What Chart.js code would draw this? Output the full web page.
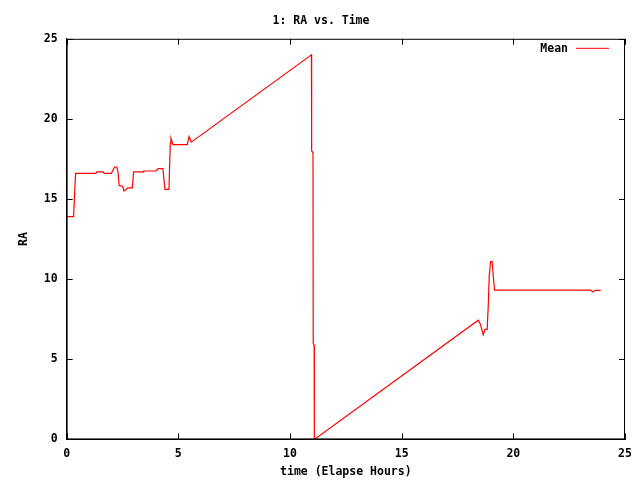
<!DOCTYPE html>
<html lang="en">
    <head>
        <meta charset="UTF-8" />
        <title>1: RA vs. Time</title>
        <script src="https://cdn.jsdelivr.net/npm/chart.js"></script>
        <style>
            html, body { margin: 0; padding: 0; background: #fff; }
            #wrap { width: 640px; height: 480px; }
        </style>
    </head>
    <body>
        <div id="wrap"><canvas id="raChart" width="640" height="480"></canvas></div>

        <script>
            // elapsed hours and mean RA
            const timeHours = [
                0, 0.31, 0.4, 1.3, 1.35, 1.63, 1.68, 2.0, 2.15, 2.25, 2.3, 2.35,
                2.5, 2.57, 2.75, 2.94, 3.0, 3.42, 3.45, 4.0, 4.1, 4.31, 4.4,
                4.58, 4.64, 4.67, 4.76, 5.4, 5.48, 5.58, 10.96, 10.97, 11.03,
                11.04, 11.08, 11.09, 18.43, 18.53, 18.65, 18.73, 18.83, 18.88,
                18.92, 18.98, 19.05, 19.1, 19.16, 23.46, 23.56, 23.66, 23.91,
            ];
            const raMean = [
                13.9, 13.9, 16.6, 16.6, 16.7, 16.7, 16.6, 16.6, 17.0, 17.0,
                16.7, 15.85, 15.8, 15.5, 15.7, 15.7, 16.7, 16.7, 16.75, 16.75,
                16.9, 16.9, 15.6, 15.6, 18.5, 18.8, 18.4, 18.4, 18.9, 18.55,
                24.0, 18.0, 17.9, 6.0, 5.9, 0, 7.44, 7.18, 6.52, 6.87, 6.87,
                8.44, 10.2, 11.1, 11.1, 10.2, 9.32, 9.32, 9.2, 9.3, 9.3,
            ];
            const xTicks = [0, 5, 10, 15, 20, 25];
            const yTicks = [0, 5, 10, 15, 20, 25];

            const FONT = { family: "'DejaVu Sans Mono', monospace", size: 11.5, weight: "bold" };

            const points = timeHours.map((t, i) => ({ x: t, y: raMean[i] }));

            // gnuplot look: box border, inward ticks on all four sides, legend in the corner
            const gnuplotFrame = {
                id: "gnuplotFrame",
                afterDraw(chart) {
                    const ctx = chart.ctx;
                    const a = chart.chartArea;
                    const xs = chart.scales.x;
                    const ys = chart.scales.y;
                    const len = 6;
                    ctx.save();
                    ctx.strokeStyle = "#000";
                    ctx.lineWidth = 1;
                    ctx.strokeRect(a.left + 0.5, a.top + 0.5, a.right - a.left - 1, a.bottom - a.top - 1);
                    ctx.beginPath();
                    xTicks.forEach((v) => {
                        const px = Math.round(xs.getPixelForValue(v)) + 0.5;
                        ctx.moveTo(px, a.bottom);
                        ctx.lineTo(px, a.bottom - len);
                        ctx.moveTo(px, a.top);
                        ctx.lineTo(px, a.top + len);
                    });
                    yTicks.forEach((v) => {
                        const py = Math.round(ys.getPixelForValue(v)) + 0.5;
                        ctx.moveTo(a.left, py);
                        ctx.lineTo(a.left + len, py);
                        ctx.moveTo(a.right, py);
                        ctx.lineTo(a.right - len, py);
                    });
                    ctx.stroke();

                    // legend
                    const ds = chart.data.datasets[0];
                    ctx.font = `${FONT.weight} ${FONT.size}px ${FONT.family}`;
                    ctx.fillStyle = "#000";
                    ctx.textAlign = "right";
                    ctx.textBaseline = "middle";
                    ctx.fillText(ds.label, a.right - 57, a.top + 10);
                    ctx.strokeStyle = ds.borderColor;
                    ctx.beginPath();
                    ctx.moveTo(a.right - 49, a.top + 9.5);
                    ctx.lineTo(a.right - 16, a.top + 9.5);
                    ctx.stroke();
                    ctx.restore();
                },
            };

            const config = {
                type: "scatter",
                data: {
                    datasets: [
                        {
                            label: "Mean",
                            data: points,
                            showLine: true,
                            borderColor: "#ff0000",
                            backgroundColor: "#ff0000",
                            borderWidth: 1.2,
                            pointRadius: 0,
                            tension: 0,
                        },
                    ],
                },
                options: {
                    responsive: false,
                    animation: false,
                    layout: { padding: { left: 17, right: 15, top: 0, bottom: 1 } },
                    plugins: {
                        legend: { display: false },
                        tooltip: { enabled: false },
                        title: {
                            display: true,
                            text: "1: RA vs. Time",
                            color: "#000",
                            font: FONT,
                            padding: { top: 14, bottom: 11 },
                        },
                    },
                    scales: {
                        x: {
                            type: "linear",
                            min: 0,
                            max: 25,
                            afterBuildTicks: (s) => { s.ticks = xTicks.map((v) => ({ value: v })); },
                            ticks: { color: "#000", font: FONT, padding: 8, maxRotation: 0 },
                            grid: { display: false, drawTicks: false },
                            border: { display: true, color: "#000" },
                            title: {
                                display: true,
                                text: "time (Elapse Hours)",
                                color: "#000",
                                font: FONT,
                                padding: { top: -4, bottom: 0 },
                            },
                        },
                        y: {
                            type: "linear",
                            min: 0,
                            max: 25,
                            afterBuildTicks: (s) => { s.ticks = yTicks.map((v) => ({ value: v })); },
                            ticks: { color: "#000", font: FONT, padding: 9 },
                            grid: { display: false, drawTicks: false },
                            border: { display: true, color: "#000" },
                            title: {
                                display: true,
                                text: "RA",
                                color: "#000",
                                font: FONT,
                                padding: { top: 0, bottom: 4 },
                            },
                        },
                    },
                },
                plugins: [gnuplotFrame],
            };

            new Chart(document.getElementById("raChart").getContext("2d"), config);
        </script>
    </body>
</html>
